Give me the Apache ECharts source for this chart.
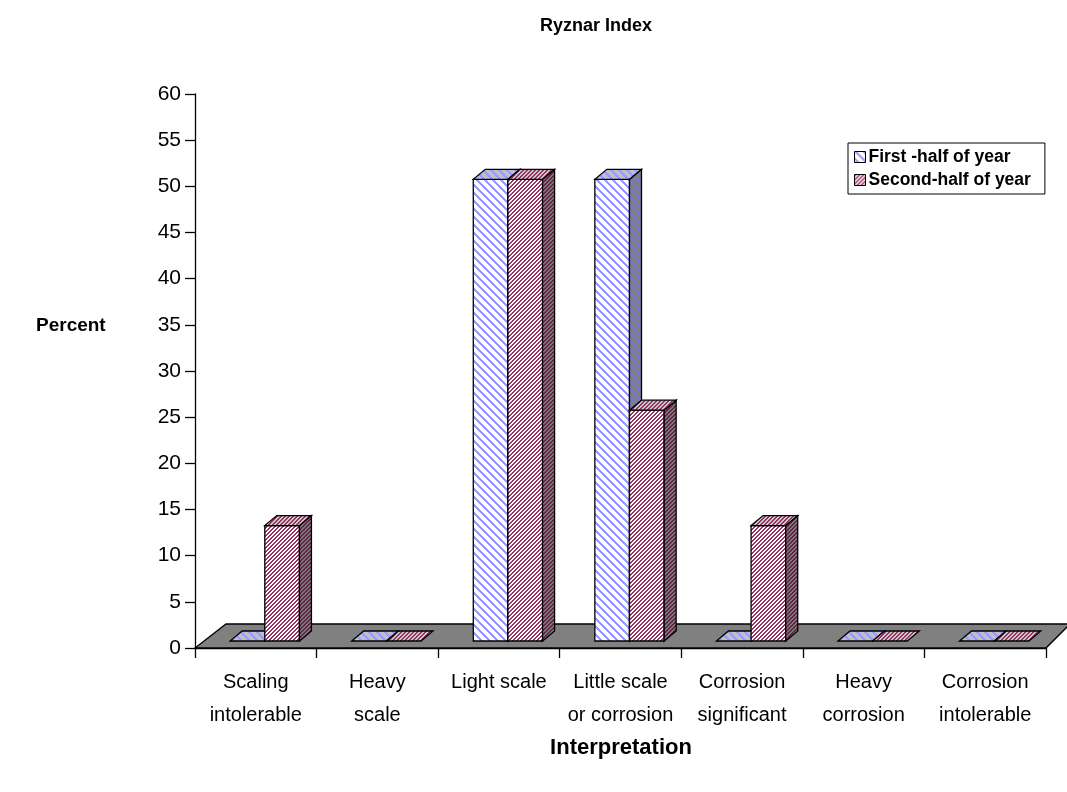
<!DOCTYPE html>
<html>
<head>
<meta charset="utf-8">
<script src="https://cdn.jsdelivr.net/npm/echarts/dist/echarts.min.js"></script>
<style>
  html, body { margin: 0; padding: 0; background: #fff; }
  #chart { width: 1067px; height: 792px; }
</style>
</head>
<body>
<div id="chart"></div>
<script>
// Ryznar Index interpretation, percent of samples per half-year
const categories = [
  'Scaling\nintolerable',
  'Heavy\nscale',
  'Light scale',
  'Little scale\nor corrosion',
  'Corrosion\nsignificant',
  'Heavy\ncorrosion',
  'Corrosion\nintolerable'
];
const seriesNames = ['First -half of year', 'Second-half of year'];
const firstHalf = [0, 0, 50, 50, 0, 0, 0];
const secondHalf = [12.5, 0, 50, 25, 12.5, 0, 0];
const yMin = 0, yMax = 60, yStep = 5;

// hatched fills: dir -1 draws "\" stripes, +1 draws "/" stripes
function hatch(size, bg, fg, width, dir) {
  const c = document.createElement('canvas');
  c.width = c.height = size;
  const ctx = c.getContext('2d');
  ctx.fillStyle = bg;
  ctx.fillRect(0, 0, size, size);
  ctx.fillStyle = fg;
  for (let y = 0; y < size; y++) {
    for (let x = 0; x < size; x++) {
      const k = dir > 0 ? (x + y) % size : ((x - y) % size + size) % size;
      if (k < width) ctx.fillRect(x, y, 1, 1);
    }
  }
  return { image: c, repeat: 'repeat' };
}

const fills = [
  {
    front: hatch(8, '#ffffff', '#9999ff', 3, -1),
    top: hatch(8, '#c0c0c0', '#9999ff', 3, -1),
    side: hatch(8, '#7f7f7f', '#7777c8', 3, -1)
  },
  {
    front: hatch(4, '#ffffff', '#993366', 2, 1),
    top: hatch(4, '#c8c8c8', '#993366', 2, 1),
    side: hatch(4, '#7a7a7a', '#662244', 2, 1)
  }
];

const BAR_FRAC = 0.285;      // width of one bar as a share of the category band
const FRONT = [9, -7];       // bar front plane, offset from the floor's front edge
const DEPTH = [12, -10];     // bar depth
const EDGE = { stroke: '#000', lineWidth: 1.3 };

function barRenderer(s) {
  return function (params, api) {
    const ci = api.value(0);
    const v = api.value(1);
    const band = api.size([1, 0])[0];
    const base = api.coord([ci, 0]);
    const top = api.coord([ci, v]);
    const w = band * BAR_FRAC;
    const x0 = base[0] + FRONT[0] + (s === 0 ? -w : 0);
    const yb = base[1] + FRONT[1];
    const yt = top[1] + FRONT[1];
    const dx = DEPTH[0], dy = DEPTH[1];
    const f = fills[s];
    const children = [];
    if (yb - yt > 0.5) {
      children.push({
        type: 'rect',
        shape: { x: x0, y: yt, width: w, height: yb - yt },
        style: Object.assign({ fill: f.front }, EDGE)
      });
      children.push({
        type: 'polygon',
        shape: { points: [[x0 + w, yt], [x0 + w + dx, yt + dy], [x0 + w + dx, yb + dy], [x0 + w, yb]] },
        style: Object.assign({ fill: f.side }, EDGE)
      });
    }
    children.push({
      type: 'polygon',
      shape: { points: [[x0, yt], [x0 + w, yt], [x0 + w + dx, yt + dy], [x0 + dx, yt + dy]] },
      style: Object.assign({ fill: f.top }, EDGE)
    });
    return { type: 'group', children: children };
  };
}

// grey floor under the bars
function floorRenderer(params, api) {
  const band = api.size([1, 0])[0];
  const first = api.coord([0, 0]);
  const last = api.coord([categories.length - 1, 0]);
  const left = first[0] - band / 2;
  const right = last[0] + band / 2;
  const y = first[1];
  return {
    type: 'polygon',
    shape: { points: [[left, y], [right, y], [right + 24, y - 24], [left + 31, y - 24]] },
    style: { fill: '#808080', stroke: '#000', lineWidth: 1.3 }
  };
}

const chart = echarts.init(document.getElementById('chart'), null, { renderer: 'canvas' });
const font = 'Liberation Sans, Arial, Helvetica, sans-serif';

chart.setOption({
  animation: false,
  textStyle: { fontFamily: font, color: '#000' },
  title: [
    { text: 'Ryznar Index', left: 596, top: 17, textAlign: 'center', padding: 0,
      textStyle: { fontSize: 18, fontWeight: 'bold', color: '#000', fontFamily: font } },
    { text: 'Percent', left: 36, top: 316, padding: 0,
      textStyle: { fontSize: 19, fontWeight: 'bold', color: '#000', fontFamily: font } },
    { text: 'Interpretation', left: 621, top: 737, textAlign: 'center', padding: 0,
      textStyle: { fontSize: 22, fontWeight: 'bold', color: '#000', fontFamily: font } }
  ],
  legend: {
    orient: 'vertical',
    left: 848,
    top: 143,
    padding: [5, 14, 5, 6],
    itemGap: 5,
    itemWidth: 11,
    itemHeight: 11,
    borderColor: '#000',
    borderWidth: 1,
    backgroundColor: '#fff',
    textStyle: { fontSize: 17.5, fontWeight: 'bold', color: '#000', fontFamily: font, padding: [0, 0, 0, -2] },
    data: [
      { name: seriesNames[0], icon: 'rect', itemStyle: { color: fills[0].front, borderColor: '#000', borderWidth: 1 } },
      { name: seriesNames[1], icon: 'rect', itemStyle: { color: fills[1].front, borderColor: '#000', borderWidth: 1 } }
    ]
  },
  grid: { left: 195, right: 21, top: 94, bottom: 144, containLabel: false },
  xAxis: {
    type: 'category',
    data: categories,
    boundaryGap: true,
    axisLine: { lineStyle: { color: '#000', width: 1.3 } },
    axisTick: { show: true, length: 10, interval: 0, lineStyle: { color: '#000', width: 1.3 } },
    axisLabel: { interval: 0, fontSize: 20, lineHeight: 33, margin: 18, color: '#000', fontFamily: font }
  },
  yAxis: {
    type: 'value',
    min: yMin,
    max: yMax,
    interval: yStep,
    axisLine: { show: true, lineStyle: { color: '#000', width: 1.3 } },
    axisTick: { show: true, length: 10, lineStyle: { color: '#000', width: 1.3 } },
    axisLabel: { fontSize: 21, margin: 14, color: '#000', fontFamily: font },
    splitLine: { show: false }
  },
  series: [
    {
      type: 'custom',
      name: 'floor',
      z: 1,
      silent: true,
      renderItem: floorRenderer,
      data: [[0, 0]],
      encode: { x: 0, y: 1 }
    },
    {
      type: 'custom',
      name: seriesNames[0],
      z: 2,
      itemStyle: { color: fills[0].front },
      renderItem: barRenderer(0),
      data: firstHalf.map((v, i) => [i, v]),
      encode: { x: 0, y: 1 }
    },
    {
      type: 'custom',
      name: seriesNames[1],
      z: 3,
      itemStyle: { color: fills[1].front },
      renderItem: barRenderer(1),
      data: secondHalf.map((v, i) => [i, v]),
      encode: { x: 0, y: 1 }
    }
  ]
});
</script>
</body>
</html>
